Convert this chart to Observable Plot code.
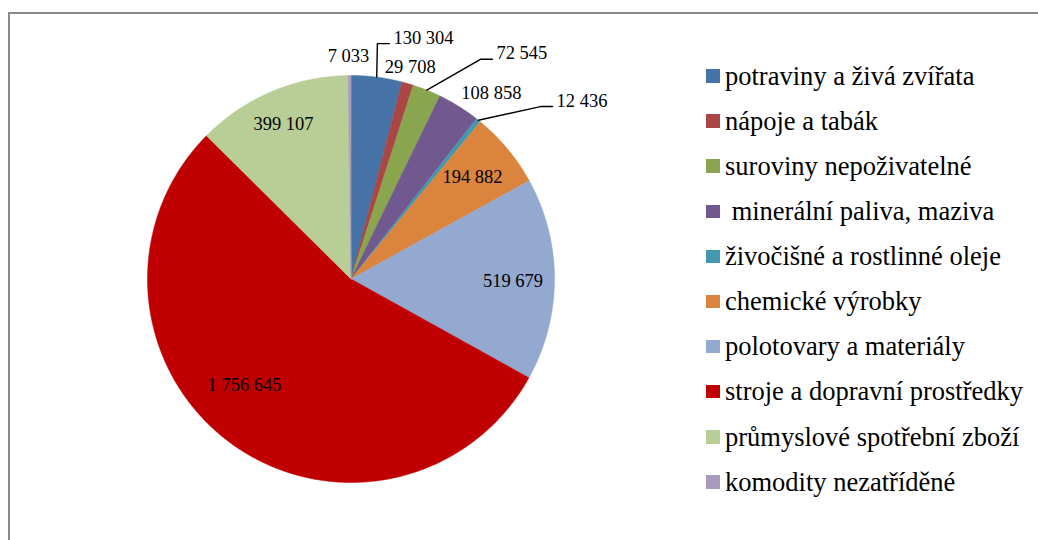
<!DOCTYPE html>
<html>
<head>
<meta charset="utf-8">
<script src="https://cdn.jsdelivr.net/npm/d3@7"></script>
<script src="https://cdn.jsdelivr.net/npm/@observablehq/plot@0.6"></script>
<style>
  html, body { margin: 0; padding: 0; background: #fff; overflow: hidden; }
  #page { position: relative; width: 1038px; height: 540px; overflow: hidden; font-family: "Liberation Serif", "Times New Roman", serif; }
  #frame { position: absolute; left: 8px; top: 12px; width: 2000px; height: 2000px; border-left: 2.5px solid #8a8a8a; border-top: 2px solid #8a8a8a; }
  #chart { position: absolute; left: 0; top: 0; }
  #legend { position: absolute; left: 706px; top: 53.5px; }
  .row { display: flex; align-items: center; height: 45.1px; }
  .sw { width: 13.5px; height: 13.5px; margin-right: 5.5px; flex: none; }
  .lab { font-size: 26.5px; line-height: 1; white-space: pre; color: #000; }
</style>
</head>
<body>
<div id="page">
  <div id="frame"></div>
  <div id="chart"></div>
  <div id="legend"></div>
</div>
<script>
// ---- data ----
const categories = [
  "potraviny a živá zvířata",
  "nápoje a tabák",
  "suroviny nepoživatelné",
  " minerální paliva, maziva",
  "živočišné a rostlinné oleje",
  "chemické výrobky",
  "polotovary a materiály",
  "stroje a dopravní prostředky",
  "průmyslové spotřební zboží",
  "komodity nezatříděné"
];
const values = [130304, 29708, 72545, 108858, 12436, 194882, 519679, 1756645, 399107, 7033];
const valueLabels = ["130 304", "29 708", "72 545", "108 858", "12 436", "194 882", "519 679", "1 756 645", "399 107", "7 033"];
const colors = ["#4572A7", "#AA4643", "#89A54E", "#71588F", "#4198AF", "#DB843D", "#93A9CF", "#C00000", "#B9CD96", "#A99BBD"];

// label placement (kind, angle shift from slice middle in degrees, distance in pie radii)
const labelKind   = ["leader", "out", "leader", "out", "leader", "in", "in", "in", "in", "out"];
const labelShift  = [-0.86, -0.58, 8.63, 5.12, 8.97, -0.18, 0.6, 8.1, -0.5, -0.26];
const labelRadius = [1.164, 1.083, 1.253, 1.144, 1.259, 0.778, 0.796, 0.74, 0.831, 1.096];

// ---- layout ----
const W = 1038, H = 540;
const cx = 350.5, cy = 278.5, R = 203.5; // pie centre and radius in pixels
const px = 1 / R; // one pixel in data units

const total = d3.sum(values);
let acc = 0;
const slices = categories.map((c, i) => {
  const a0 = acc / total * 2 * Math.PI;
  acc += values[i];
  const a1 = acc / total * 2 * Math.PI;
  return {c, i, a0, a1, mid: (a0 + a1) / 2};
});
const polar = (a, r) => ({x: r * Math.sin(a), y: r * Math.cos(a)});

const polys = slices.flatMap(s => {
  const n = Math.max(2, Math.ceil((s.a1 - s.a0) / (Math.PI / 360)));
  const pts = [{...polar(0, 0), c: s.c}];
  for (let k = 0; k <= n; ++k) pts.push({...polar(s.a0 + (s.a1 - s.a0) * k / n, 1), c: s.c});
  return pts;
});

const labels = slices.map(s => {
  const a = s.mid + labelShift[s.i] * Math.PI / 180;
  const p = polar(a, labelRadius[s.i]);
  return {...p, kind: labelKind[s.i], text: valueLabels[s.i], c: s.c, mid: s.mid};
});

const leaders = labels.filter(d => d.kind === "leader").flatMap(d => {
  const start = polar(d.mid, 1);
  return [
    {x: start.x, y: start.y, c: d.c},
    {x: d.x, y: d.y, c: d.c},
    {x: d.x + 12 * px, y: d.y, c: d.c}
  ];
});
const leaderText = labels.filter(d => d.kind === "leader").map(d => ({...d, x: d.x + 16 * px}));
const plainText = labels.filter(d => d.kind !== "leader");

const chart = Plot.plot({
  width: W,
  height: H,
  margin: 0,
  x: {domain: [-cx * px, (W - cx) * px], axis: null},
  y: {domain: [-(H - cy) * px, cy * px], axis: null},
  color: {domain: categories, range: colors},
  style: {fontFamily: "'Liberation Serif', 'Times New Roman', serif", background: "transparent", overflow: "visible"},
  marks: [
    Plot.line(polys, {x: "x", y: "y", z: "c", fill: "c", stroke: "c", strokeWidth: 0.5, curve: "linear-closed"}),
    Plot.line(leaders, {x: "x", y: "y", z: "c", stroke: "#000", strokeWidth: 1.4}),
    Plot.text(plainText, {x: "x", y: "y", text: "text", fontSize: 18.5, fill: "#000", textAnchor: "middle", lineAnchor: "middle"}),
    Plot.text(leaderText, {x: "x", y: "y", text: "text", fontSize: 18.5, fill: "#000", textAnchor: "start", lineAnchor: "bottom"})
  ]
});
document.getElementById("chart").appendChild(chart);

// legend
const legend = document.getElementById("legend");
categories.forEach((c, i) => {
  const row = document.createElement("div");
  row.className = "row";
  const sw = document.createElement("div");
  sw.className = "sw";
  sw.style.background = colors[i];
  const lab = document.createElement("span");
  lab.className = "lab";
  lab.textContent = c;
  row.appendChild(sw);
  row.appendChild(lab);
  legend.appendChild(row);
});
</script>
</body>
</html>
